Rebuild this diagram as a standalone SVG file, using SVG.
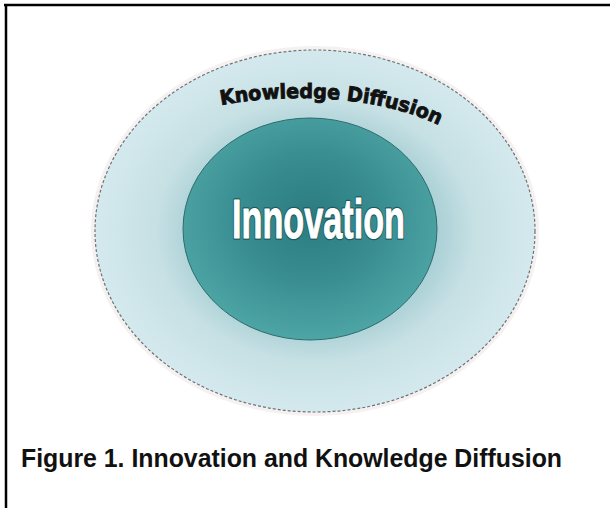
<svg xmlns="http://www.w3.org/2000/svg" xmlns:xlink="http://www.w3.org/1999/xlink" width="611" height="508" viewBox="0 0 611 508">
  <defs>
    <radialGradient id="outerFill" cx="0.5" cy="0.5" r="0.5">
      <stop offset="0" stop-color="#8fbfc4"/>
      <stop offset="0.55" stop-color="#a9d0d5"/>
      <stop offset="0.72" stop-color="#c6e0e4"/>
      <stop offset="1" stop-color="#d4e9ed"/>
    </radialGradient>
    <radialGradient id="innerFill" cx="0.5" cy="0.45" r="0.55">
      <stop offset="0" stop-color="#2a7b80"/>
      <stop offset="0.55" stop-color="#3a8f92"/>
      <stop offset="1" stop-color="#4ea5a5"/>
    </radialGradient>
    <path id="arc" d="M 221 105 C 280 94, 380 92, 448 130"/>
    <style>
      .frame { stroke: #000; stroke-width: 2.5; fill: none; }
      .outer { fill: url(#outerFill); stroke: #6e7377; stroke-width: 1.2; stroke-dasharray: 3 2; }
      .halo { fill: none; stroke: #f6f1f1; stroke-width: 4; }
      .inner { fill: url(#innerFill); stroke: #2d6b6c; stroke-width: 1; }
      .title { font-family: "Liberation Sans", Arial, sans-serif; font-weight: bold; font-size: 56px; }
      .title-outline { fill: #1d5a5c; stroke: #1d5a5c; stroke-width: 3.5; stroke-linejoin: round; }
      .title-face { fill: #ffffff; stroke: #ffffff; stroke-width: 1; stroke-linejoin: round; }
      .arcText { font-family: "DejaVu Sans", sans-serif; font-weight: bold; font-size: 20px; fill: #111; stroke: #111; stroke-width: 0.9; }
      .caption { font-family: "Liberation Sans", Arial, sans-serif; font-weight: bold; font-size: 25px; fill: #111; }
    </style>
  </defs>
  <rect width="611" height="508" fill="#ffffff"/>
  <g id="frame">
    <line class="frame" x1="4" y1="5" x2="610" y2="5"/>
    <line class="frame" x1="6" y1="4" x2="6" y2="508"/>
  </g>
  <g id="knowledge-diffusion">
    <ellipse class="halo" cx="315" cy="231" rx="222" ry="183"/>
    <ellipse class="outer" cx="315" cy="231" rx="220" ry="181"/>
    <text class="arcText"><textPath xlink:href="#arc" href="#arc" textLength="222" lengthAdjust="spacingAndGlyphs">Knowledge Diffusion</textPath></text>
  </g>
  <g id="innovation">
    <ellipse class="inner" cx="310" cy="229" rx="127" ry="111"/>
    <text class="title title-outline" x="318.5" y="238" text-anchor="middle" textLength="173" lengthAdjust="spacingAndGlyphs" aria-hidden="true">Innovation</text>
    <text class="title title-face" x="318.5" y="238" text-anchor="middle" textLength="173" lengthAdjust="spacingAndGlyphs">Innovation</text>
  </g>
  <g id="connectors"/>
  <g id="caption">
    <text class="caption" x="21" y="467" textLength="541" lengthAdjust="spacingAndGlyphs">Figure 1. Innovation and Knowledge Diffusion</text>
  </g>
</svg>
